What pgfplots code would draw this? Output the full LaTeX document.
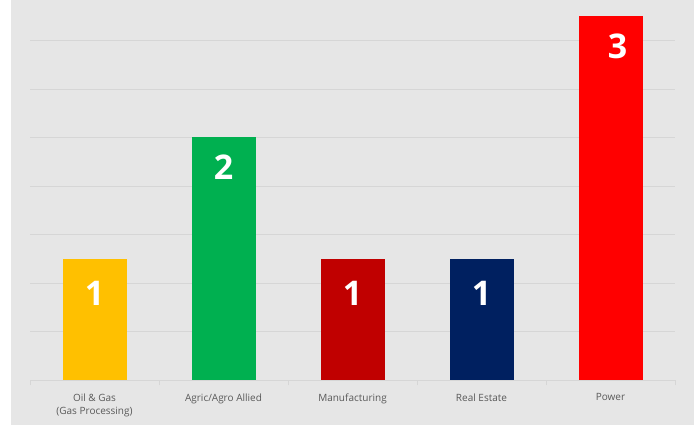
\documentclass[border=0pt]{standalone}
\usepackage{pgfplots}
\pgfplotsset{compat=1.18}
\usepackage{fontspec}
\setmainfont{Open Sans}
\definecolor{bg}{HTML}{E6E6E6}
\definecolor{gridc}{HTML}{D6D6D6}
\definecolor{txt}{HTML}{595959}
\definecolor{c1}{HTML}{FFC000}
\definecolor{c2}{HTML}{00B050}
\definecolor{c3}{HTML}{C00000}
\definecolor{c4}{HTML}{002060}
\definecolor{c5}{HTML}{FF0000}
\begin{document}
\begin{tikzpicture}
\fill[white] (0,0) rectangle (700pt,425pt);
\fill[bg] (11pt,0) rectangle (694pt,425pt);
\begin{axis}[
  at={(30pt,45pt)}, anchor=south west,
  scale only axis, width=645pt, height=375.9pt,
  xmin=-0.5, xmax=4.5, ymin=0, ymax=3.1,
  ybar, bar width=64pt,
  axis x line*=bottom, axis y line*=left,
  x axis line style={draw=gridc, line width=0.8pt},
  y axis line style={draw=none},
  xtick={0,1,2,3,4},
  xticklabels={{Oil \& Gas\\(Gas Processing)},{Agric/Agro Allied},{Manufacturing},{Real Estate},{Power}},
  xticklabel style={align=center, text=txt, font=\fontsize{10}{13}\selectfont, yshift=-10pt},
  major tick length=0pt,
  minor xtick={-0.5,0.5,1.5,2.5,3.5,4.5},
  minor tick length=5pt, tick align=outside,
  minor x tick style={draw=gridc, line width=0.8pt},
  ytick={0.4,0.8,1.2,1.6,2.0,2.4,2.8},
  yticklabels={},
  ytick style={draw=none},
  ymajorgrids, major grid style={draw=gridc, line width=0.8pt},
  nodes near coords,
  nodes near coords style={anchor=north, text=white, font=\fontsize{34}{34}\selectfont\bfseries, yshift=-14pt},
  point meta=y,
  every node near coord/.append style={/pgf/number format/assume math mode=true},
]
\addplot[fill=c1, draw=none, bar shift=0pt, nodes near coords style={yshift=-5pt}] coordinates {(0,1)};
\addplot[fill=c2, draw=none, bar shift=0pt] coordinates {(1,2)};
\addplot[fill=c3, draw=none, bar shift=0pt, nodes near coords style={yshift=-5pt}] coordinates {(2,1)};
\addplot[fill=c4, draw=none, bar shift=0pt, nodes near coords style={yshift=-5pt}] coordinates {(3,1)};
\addplot[fill=c5, draw=none, bar shift=0pt, nodes near coords style={xshift=7pt}] coordinates {(4,3)};
\end{axis}
\pgfresetboundingbox
\useasboundingbox (0,0) rectangle (700pt,425pt);
\end{tikzpicture}
\end{document}
